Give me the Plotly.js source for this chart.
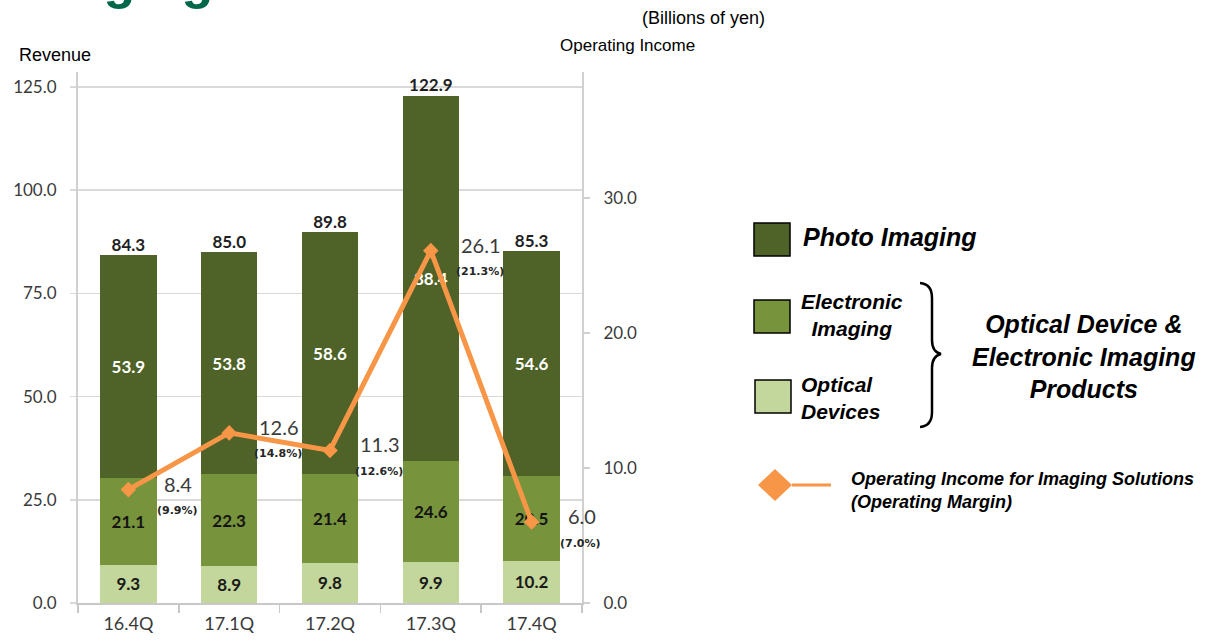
<!DOCTYPE html>
<html>
<head>
<meta charset="utf-8">
<script src="https://cdn.plot.ly/plotly-3.0.1.min.js"></script>
<style>html,body{margin:0;padding:0;background:#fff;}#chart{width:1206px;height:640px;}</style>
</head>
<body>
<div id="chart"></div>
<script>
// ---- data ----
const quarters = ["16.4Q", "17.1Q", "17.2Q", "17.3Q", "17.4Q"];
const opticalDevices = [9.3, 8.9, 9.8, 9.9, 10.2];
const electronicImaging = [21.1, 22.3, 21.4, 24.6, 20.5];
const photoImaging = [53.9, 53.8, 58.6, 88.4, 54.6];
const revenueTotal = [84.3, 85.0, 89.8, 122.9, 85.3];
const operatingIncome = [8.4, 12.6, 11.3, 26.1, 6.0];
const operatingMargin = [9.9, 14.8, 12.6, 21.3, 7.0];

// ---- layout helpers (pixel -> paper) ----
const W = 1206, H = 640;
const L = 78, R = 582, T = 72, B = 603;
const px = x => (x - L) / (R - L);
const py = y => (B - y) / (B - T);

const FONT = 'Lato, "Open Sans", sans-serif';
const ARIAL = '"Liberation Sans", Arial, sans-serif';
const C_PHOTO = '#4F6228', C_ELEC = '#77933C', C_OPT = '#C3D69B', C_ORANGE = '#F79646';

const fmt = v => v.toFixed(1);

const barCommon = {
  type: 'bar', x: quarters, textposition: 'inside', insidetextanchor: 'middle',
  textangle: 0, constraintext: 'none', hoverinfo: 'skip',
  marker: {line: {width: 0}}
};

const traces = [
  Object.assign({}, barCommon, {name: 'Optical Devices', y: opticalDevices, text: opticalDevices.map(fmt),
    marker: {color: C_OPT}, textfont: {family: FONT, size: 17, color: '#1a1a1a', weight: 'bold'}}),
  Object.assign({}, barCommon, {name: 'Electronic Imaging', y: electronicImaging, text: electronicImaging.map(fmt),
    marker: {color: C_ELEC}, textfont: {family: FONT, size: 17, color: '#141414', weight: 'bold'}}),
  Object.assign({}, barCommon, {name: 'Photo Imaging', y: photoImaging, text: photoImaging.map(fmt),
    marker: {color: C_PHOTO}, textfont: {family: FONT, size: 17, color: '#ffffff', weight: 'bold'}}),
  {type: 'scatter', mode: 'text', x: quarters, y: revenueTotal, text: revenueTotal.map(fmt),
    textposition: 'top center', textfont: {family: FONT, size: 17, color: '#1f1f1f', weight: 'bold'},
    hoverinfo: 'skip', showlegend: false, cliponaxis: false},
  {type: 'scatter', mode: 'lines+markers', x: quarters, y: operatingIncome, yaxis: 'y2',
    line: {color: C_ORANGE, width: 5}, marker: {symbol: 'diamond', size: 12, color: C_ORANGE},
    hoverinfo: 'skip', cliponaxis: false, name: 'Operating Income'}
];

const annotations = [];
quarters.forEach((q, i) => {
  annotations.push({xref: 'x', yref: 'y2', x: q, y: operatingIncome[i], text: fmt(operatingIncome[i]),
    showarrow: false, xshift: 50, yshift: 6, xanchor: 'center', yanchor: 'middle',
    font: {family: FONT, size: 20, color: '#3a3a3a'}});
  annotations.push({xref: 'x', yref: 'y2', x: q, y: operatingIncome[i], text: '<b>(' + fmt(operatingMargin[i]) + '%)</b>',
    showarrow: false, xshift: 49, yshift: -21, xanchor: 'center', yanchor: 'middle',
    font: {family: '"DejaVu Sans", sans-serif', size: 11, color: '#262626'}});
});

function txt(text, x, y, size, opts) {
  return Object.assign({xref: 'paper', yref: 'paper', x: px(x), y: py(y), text: text, showarrow: false,
    xanchor: 'left', yanchor: 'middle', align: 'left', font: {family: ARIAL, size: size, color: '#000'}}, opts || {});
}

// page title (cut at the top edge, as in the reference)
annotations.push(txt('<b>Imaging Solutions</b>', 12, -20, 52, {font: {family: ARIAL, size: 52, color: '#00674A'}}));
annotations.push(txt('(Billions of yen)', 640, 18, 18));
annotations.push(txt('Revenue', 17, 55, 18));
annotations.push(txt('Operating Income', 558, 46, 17));

// legend texts
annotations.push(txt('<b><i>Photo Imaging</i></b>', 801, 237, 25));
annotations.push(txt('<b><i>Electronic<br>Imaging</i></b>', 852, 315, 21, {xanchor: 'center', align: 'center'}));
annotations.push(txt('<b><i>Optical<br>Devices</i></b>', 799, 398, 21));
annotations.push(txt('<b><i>Optical Device &amp;<br>Electronic Imaging<br>Products</i></b>', 1084, 356, 25, {xanchor: 'center', align: 'center'}));
annotations.push(txt('<b><i>Operating Income for Imaging Solutions<br>(Operating Margin)</i></b>', 849, 490, 18));

function rectShape(x0, y0, x1, y1, color) {
  return {type: 'rect', xref: 'paper', yref: 'paper', x0: px(x0), x1: px(x1), y0: py(y1), y1: py(y0),
    fillcolor: color, line: {color: '#000', width: 1.5}};
}
function pathShape(points, opts) {
  let d = '';
  points.forEach(p => {
    d += p[0];
    for (let k = 1; k < p.length; k += 2) d += px(p[k]) + ',' + py(p[k + 1]) + ' ';
  });
  return Object.assign({type: 'path', xref: 'paper', yref: 'paper', path: d.trim()}, opts);
}

const shapes = [
  rectShape(754, 223, 790, 256, C_PHOTO),
  rectShape(754, 300, 790, 333, C_ELEC),
  rectShape(755, 380, 791, 413, C_OPT),
  pathShape([['M', 758, 485], ['L', 775, 469], ['L', 792, 485], ['L', 775, 501], ['Z']],
    {fillcolor: C_ORANGE, line: {width: 0}}),
  {type: 'line', xref: 'paper', yref: 'paper', x0: px(792), x1: px(831), y0: py(485), y1: py(485),
    line: {color: C_ORANGE, width: 3}},
  pathShape([['M', 920, 283], ['Q', 932, 284, 932, 298], ['L', 932, 340], ['Q', 932, 352, 941, 354],
    ['Q', 932, 356, 932, 368], ['L', 932, 412], ['Q', 932, 426, 920, 427]],
    {line: {color: '#000', width: 2.5}})
];

const layout = {
  width: W, height: H,
  margin: {l: L, r: W - R, t: T, b: H - B, pad: 0},
  paper_bgcolor: '#fff', plot_bgcolor: '#fff',
  barmode: 'stack', bargap: 0.44,
  showlegend: false,
  xaxis: {
    type: 'category', categoryorder: 'array', categoryarray: quarters,
    range: [-0.5, quarters.length - 0.5], autorange: false,
    tickson: 'boundaries', ticks: 'outside', ticklen: 8, tickcolor: '#c8c8c8', tickwidth: 1.5,
    showline: true, linecolor: '#c8c8c8', linewidth: 1.5, showgrid: false,
    tickfont: {family: FONT, size: 18, color: '#3a3a3a'}, ticklabelstandoff: 4, automargin: false
  },
  yaxis: {
    range: [0, (B - T) / 516 * 125], autorange: false, dtick: 25, tick0: 0, tickformat: '.1f',
    showgrid: true, gridcolor: '#d9d9d9', gridwidth: 1.5, zeroline: false,
    ticks: 'outside', ticklen: 6, tickcolor: '#d9d9d9', tickwidth: 1.5,
    showline: true, linecolor: '#d0d0d0', linewidth: 2,
    tickfont: {family: FONT, size: 17, color: '#3a3a3a'}, ticklabelstandoff: 10, automargin: false
  },
  yaxis2: {
    overlaying: 'y', side: 'right', anchor: 'x',
    range: [0, (B - T) / 135 * 10], autorange: false, dtick: 10, tick0: 0, tickformat: '.1f',
    showgrid: false, zeroline: false,
    ticks: 'outside', ticklen: 6, tickcolor: '#d0d0d0', tickwidth: 1.5,
    showline: true, linecolor: '#d0d0d0', linewidth: 2,
    tickfont: {family: FONT, size: 17, color: '#3a3a3a'}, ticklabelstandoff: 10, automargin: false
  },
  annotations: annotations,
  shapes: shapes
};

Plotly.newPlot('chart', traces, layout, {staticPlot: true, displayModeBar: false});
</script>
</body>
</html>
